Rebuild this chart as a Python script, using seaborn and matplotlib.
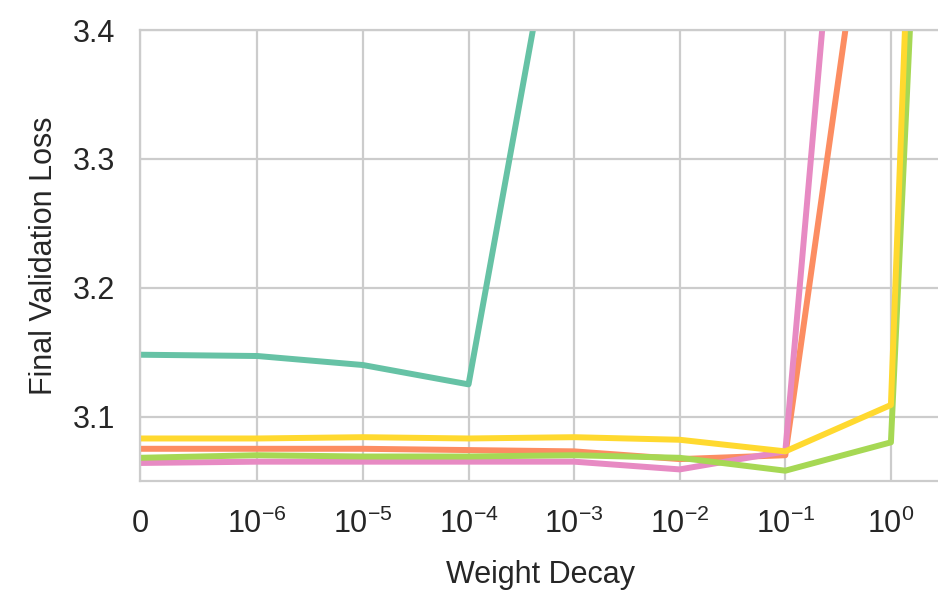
import numpy as np
import pandas as pd
import matplotlib
matplotlib.use("Agg")
import matplotlib.pyplot as plt
import seaborn as sns

weight_decay = [0, 1e-6, 1e-5, 1e-4, 1e-3, 1e-2, 1e-1, 1, 10]
xtick_values = [0, 1e-6, 1e-5, 1e-4, 1e-3, 1e-2, 1e-1, 1]
yticks = [3.1, 3.2, 3.3, 3.4]

series_names = ["A", "B", "C", "D", "E"]
loss_a = [3.148, 3.147, 3.140, 3.125, 3.576]
loss_b = [3.075, 3.075, 3.075, 3.074, 3.073, 3.067, 3.070, 3.650]
loss_c = [3.064, 3.065, 3.065, 3.065, 3.065, 3.059, 3.073, 4.010]
loss_d = [3.068, 3.070, 3.069, 3.069, 3.070, 3.068, 3.058, 3.080, 4.86]
loss_e = [3.083, 3.083, 3.084, 3.083, 3.084, 3.082, 3.073, 3.109, 5.30]
colors = ["#66c2a5", "#fc8d62", "#e78ac3", "#a6d854", "#ffd92f"]

all_losses = [loss_a, loss_b, loss_c, loss_d, loss_e]
rows = []
for name, vals in zip(series_names, all_losses):
    for x, v in zip(weight_decay, vals):
        rows.append({"wd": x, "loss": v, "run": name})
df = pd.DataFrame(rows)

sns.set_theme(style="whitegrid")
plt.rcParams["font.family"] = ["Liberation Sans", "DejaVu Sans"]
plt.rcParams["grid.color"] = "#cccccc"
plt.rcParams["grid.linewidth"] = 1.6
plt.rcParams["axes.edgecolor"] = "#cccccc"
plt.rcParams["axes.linewidth"] = 1.6

fig = plt.figure(figsize=(9.38, 5.93), dpi=100)
ax = fig.add_axes([140 / 938, (593 - 481) / 593, (941.3 - 140) / 938, (481 - 30) / 593])

sns.lineplot(data=df, x="wd", y="loss", hue="run", hue_order=series_names,
             palette=colors, linewidth=4.3, legend=False, ax=ax, sort=True)

ax.set_xscale("symlog", linthresh=1e-6, linscale=1)
ax.set_xlim(0, 3)
ax.set_ylim(3.05, 3.4)
ax.set_xticks(xtick_values)
ax.set_yticks(yticks)
ax.tick_params(axis="both", labelsize=22, colors="#262626", length=0)
ax.tick_params(axis="x", pad=20)
ax.tick_params(axis="y", pad=18)
ax.set_xlabel("Weight Decay", fontsize=22, color="#262626", labelpad=14)
ax.set_ylabel("Final Validation Loss", fontsize=22, color="#262626", labelpad=10)
ax.spines["right"].set_visible(False)

fig.savefig("out.png", dpi=100)
